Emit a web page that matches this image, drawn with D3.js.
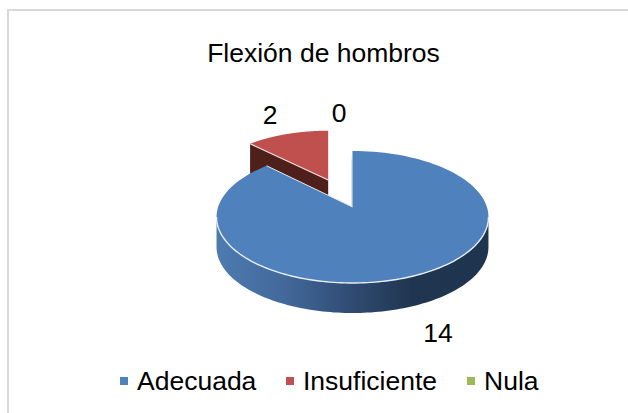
<!DOCTYPE html>
<html><head><meta charset="utf-8">
<script src="https://cdn.jsdelivr.net/npm/d3@7"></script>
<style>html,body{margin:0;padding:0;background:#fff}svg{display:block}text{font-family:"Liberation Sans",Arial,sans-serif;fill:#000}</style>
</head><body><div id="chart"></div>
<script>
const categories = ["Adecuada", "Insuficiente", "Nula"];
const values = [14, 2, 0];
const colors = ["#4f81bd", "#c0504d", "#9bbb59"];
const title = "Flexión de hombros";

const W = 628, H = 413, FS = 26.5;
const svg = d3.select("#chart").append("svg").attr("width", W).attr("height", H);
svg.append("path").attr("d", `M${W},10H8V${H}`).attr("fill", "none").attr("stroke", "#d9d9d9").attr("stroke-width", 2);

svg.append("text").attr("x", 323.5).attr("y", 62).attr("text-anchor", "middle").attr("font-size", FS).text(title);

// perspective projection of the pie's unit circle
const cx = 352.5, cy = 207, kx = 134.4, ky = 64.5, p = 0.1515, depth = 30;
const proj = (a, r = 1) => {
  const X = r * Math.sin(a), Y = r * Math.cos(a), f = 1 / (1 + p * Y);
  return [cx + kx * X * f, cy - ky * Y * f];
};
const slices = d3.pie().sort(null).value(d => d)(values);
const line = d3.line();
const sample = (a0, a1) => d3.range(0, 121).map(i => a0 + (a1 - a0) * i / 120);

const defs = svg.append("defs");
const grad = defs.append("linearGradient").attr("id", "side").attr("gradientUnits", "userSpaceOnUse")
  .attr("x1", 217).attr("x2", 488).attr("y1", 0).attr("y2", 0);
[[0, "#4d7bb0"], [0.25, "#42699a"], [0.5, "#2f4b72"], [0.72, "#203650"], [1, "#1f344e"]]
  .forEach(([o, c]) => grad.append("stop").attr("offset", o).attr("stop-color", c));

// exploded red slice: translate + scale about the apex
const exX = 328.2, exY = 180, exSx = 0.91, exSy = 0.88;
const red = slices[1];
const ex = ([x, y]) => [exX + (x - cx) * exSx, exY + (y - cy) * exSy];
const redArc = sample(red.startAngle, red.endAngle).map(a => ex(proj(a)));
const apexR = [exX, exY];
const down = ([x, y], d = depth) => [x, y + d];
const cornerL = redArc[0];

svg.append("path").attr("d", line([cornerL, apexR, down(apexR), down(cornerL)]) + "Z").attr("fill", "#4f1f1c");
svg.append("path").attr("d", line([apexR, cornerL, ...redArc, apexR]) + "Z").attr("fill", colors[1]);
svg.append("path").attr("d", line([cornerL, apexR])).attr("fill", "none").attr("stroke", "#efdcdc").attr("stroke-width", 1.2);

// blue slice: side wall
const blue = slices[0];
const e = Math.acos(-p);
const rim = sample(e, 2 * Math.PI - e).map(a => proj(a));
svg.append("path").attr("d", line([...rim, ...rim.slice().reverse().map(q => down(q))]) + "Z").attr("fill", "url(#side)");
// inner sliver at the zero-width slice
const apex = [cx, cy];
svg.append("path").attr("d", line([[cx - 1.5, cy - 1], [cx - 1.5, cy - 46], [cx, cy - 56], apex]) + "Z").attr("fill", "#dfe3e8");
// top
const blueArc = sample(blue.startAngle, blue.endAngle).map(a => proj(a));
svg.append("path").attr("d", line([apex, ...blueArc, apex]) + "Z").attr("fill", colors[0]);
svg.append("path").attr("d", line(rim)).attr("fill", "none").attr("stroke", "#e8eef5").attr("stroke-width", 1.4);
svg.append("path").attr("d", line([blueArc[blueArc.length - 1], apex])).attr("fill", "none").attr("stroke", "#e4ebf3").attr("stroke-width", 1);

// data labels
const labelPos = [[438, 342], [270, 124], [339, 122]];
values.forEach((v, i) => svg.append("text").attr("x", labelPos[i][0]).attr("y", labelPos[i][1])
  .attr("text-anchor", "middle").attr("font-size", FS).text(v));

// legend
const legendX = [120, 286, 467];
categories.forEach((c, i) => {
  svg.append("rect").attr("x", legendX[i]).attr("y", 377).attr("width", 8).attr("height", 8).attr("fill", colors[i]);
  svg.append("text").attr("x", legendX[i] + 17).attr("y", 390).attr("font-size", FS).text(c);
});
</script></body></html>
